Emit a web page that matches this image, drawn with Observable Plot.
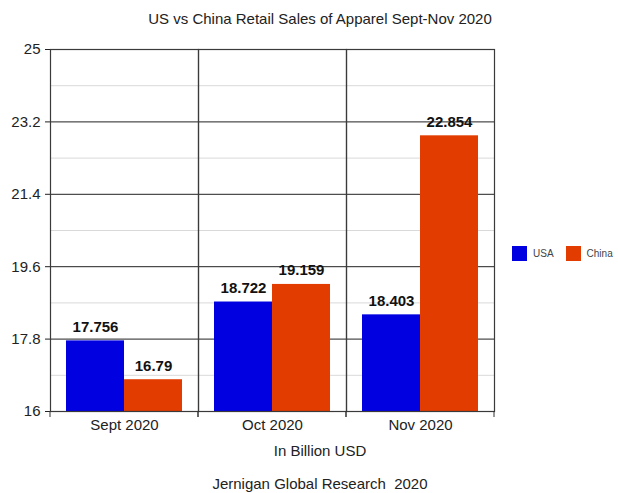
<!DOCTYPE html>
<html>
<head>
<meta charset="utf-8">
<script src="https://cdn.jsdelivr.net/npm/d3@7"></script>
<script src="https://cdn.jsdelivr.net/npm/@observablehq/plot@0.6"></script>
<style>
  html, body { margin: 0; padding: 0; background: #fff; }
  body { font-family: "Liberation Sans", Arial, sans-serif; color: #222; }
  #wrap { position: relative; width: 618px; height: 493px; overflow: hidden; }
  .centered { width: 618px; box-sizing: border-box; padding-left: 22px; text-align: center; font-size: 15px; white-space: pre; }
  #title { height: 34px; line-height: 34px; padding-top: 2px; box-sizing: border-box; }
  #axislabel { height: 20px; line-height: 20px; }
  #caption { height: 33px; line-height: 20px; padding-top: 13px; }
  #legend { position: absolute; left: 512px; top: 237px; width: 160px; }
  #legend > div { flex-wrap: nowrap !important; white-space: nowrap; }
  #legend [class$="-swatch"] { margin-right: 12px !important; }
  #legend svg { margin-right: 6px !important; }
  #chart svg { display: block; }
</style>
</head>
<body>
<div id="wrap">
  <div id="title" class="centered">US vs China Retail Sales of Apparel Sept-Nov 2020</div>
  <div id="chart"></div>
  <div id="axislabel" class="centered">In Billion USD</div>
  <div id="caption" class="centered">Jernigan Global Research  2020</div>
  <div id="legend"></div>
</div>
<script>
// ---- data ----
const months = ["Sept 2020", "Oct 2020", "Nov 2020"];
const series = ["USA", "China"];
const usaSales = [17.756, 18.722, 18.403];
const chinaSales = [16.79, 19.159, 22.854];
const seriesColors = ["#0000e0", "#e23c00"];
const yTicks = [16, 17.8, 19.6, 21.4, 23.2, 25];
const yMinorTicks = [16.9, 18.7, 20.5, 22.3, 24.1];

const salesBySeries = {USA: usaSales, China: chinaSales};
const rows = [];
months.forEach((m, i) => series.forEach(s => rows.push({month: m, series: s, value: salesBySeries[s][i]})));

// small stubs below the frame at each facet boundary, from Plot's own dimensions
const boundaryStubs = (index, scales, values, dim) => {
  const g = d3.create("svg:g").attr("stroke", "#333");
  const yb = dim.height - dim.marginBottom;
  for (const x of [dim.marginLeft, dim.width - dim.marginRight]) {
    g.append("line").attr("x1", x).attr("x2", x).attr("y1", yb).attr("y2", yb + 6);
  }
  return g.node();
};

const chart = Plot.plot({
  width: 618,
  height: 407,
  marginTop: 15,
  marginBottom: 30,
  marginLeft: 49,
  marginRight: 123,
  style: {fontFamily: "Liberation Sans, Arial, sans-serif", fontSize: "15px", color: "#222", background: "white"},
  fx: {domain: months, padding: 0, label: null, tickSize: 0, tickPadding: 8, axis: "bottom"},
  x: {domain: series, axis: null, paddingInner: 0, paddingOuter: 0.27},
  y: {domain: [yTicks[0], yTicks[yTicks.length - 1]], ticks: yTicks, tickSize: 5, tickPadding: 5, label: null, tickFormat: d => String(d)},
  color: {domain: series, range: seriesColors},
  marks: [
    Plot.ruleY(yMinorTicks, {stroke: "#d9d9d9"}),
    Plot.ruleY(yTicks, {stroke: "#222"}),
    Plot.barY(rows, {fx: "month", x: "series", y1: yTicks[0], y2: "value", fill: "series"}),
    Plot.text(rows, {fx: "month", x: "series", y: "value", text: d => String(d.value), dy: -14, fontWeight: "bold", fill: "#111"}),
    Plot.frame({stroke: "#3a3a3a", strokeWidth: 1.2}),
    boundaryStubs
  ]
});
document.getElementById("chart").appendChild(chart);

const legend = Plot.legend({
  color: {domain: series, range: seriesColors},
  swatchSize: 15,
  style: {fontFamily: "Liberation Sans, Arial, sans-serif", fontSize: "10px", color: "#444", margin: "0"}
});
document.getElementById("legend").appendChild(legend);
</script>
</body>
</html>
